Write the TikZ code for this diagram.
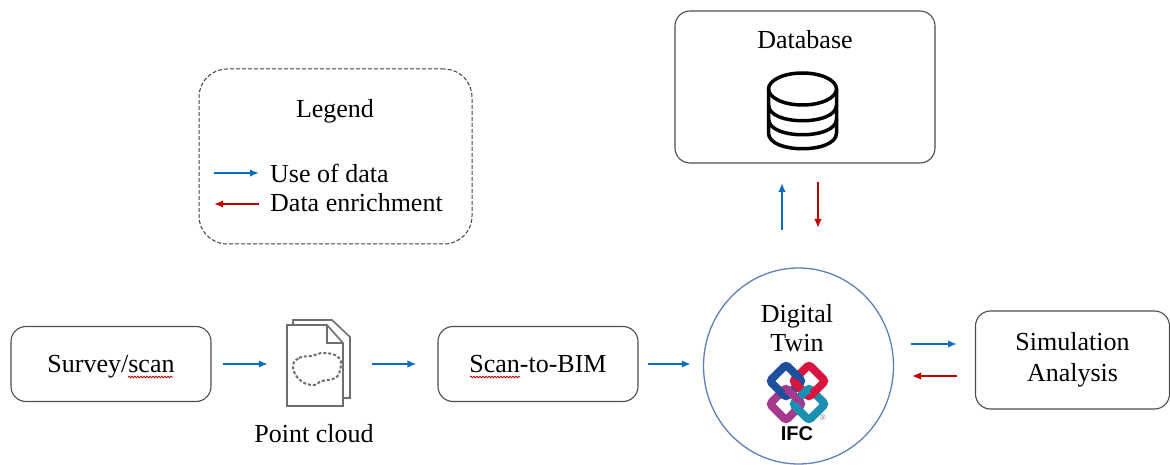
\documentclass[tikz,border=0pt]{standalone}
\usepackage{fontspec}
\setmainfont{Liberation Serif}
\usetikzlibrary{arrows.meta,decorations.pathmorphing,shapes.geometric}

\definecolor{usedata}{HTML}{0F6CBD}
\definecolor{enrich}{HTML}{C00000}
\definecolor{ringline}{HTML}{5F7FB5}
\definecolor{iconline}{HTML}{6E6E6E}
\definecolor{ifcblue}{HTML}{1F4E9C}
\definecolor{ifcred}{HTML}{D8143F}
\definecolor{ifcpurple}{HTML}{A43A8E}
\definecolor{ifcteal}{HTML}{1A8FB0}

\begin{document}
\begin{tikzpicture}[x=1pt,y=-1pt,>={Latex[length=9pt,width=7.5pt]},
  font=\fontsize{26}{30}\selectfont,
  main box/.style={draw=black!70,line width=1.1pt,rounded corners=15pt,inner sep=0pt,align=center},
  use line/.style={->,draw=usedata,line width=1.8pt},
  enrich line/.style={->,draw=enrich,line width=1.8pt},
  spell line/.style={draw=red!75!black,line width=.8pt,decorate,decoration={snake,amplitude=.8pt,segment length=3pt}},
  ifc ring/.style={line width=8pt,rounded corners=3pt}]
  \useasboundingbox (0,0) rectangle (1170,465);

  % boxes
  \node[main box,minimum width=200pt,minimum height=75pt,text height=20pt,text depth=3pt] (survey) at (111,364) {Survey/scan};
  \node[main box,minimum width=200pt,minimum height=75pt,text height=20pt,text depth=3pt] (scan) at (538,364) {Scan-to-BIM};
  \node[main box,minimum width=194pt,minimum height=98pt,font=\fontsize{26}{31}\selectfont] (sim) at (1072.5,360) {Simulation\\Analysis};
  \node[main box,minimum width=260pt,minimum height=152pt] (db) at (805,87) {};
  \node[inner sep=0pt] (dbtitle) at (805,40) {Database};
  \node[draw=ringline,line width=1.3pt,ellipse,minimum width=190pt,minimum height=196pt,inner sep=0pt] (twin) at (798.5,366) {};
  \node[inner sep=0pt,align=center,font=\fontsize{26}{29}\selectfont] (twintitle) at (797,328) {Digital\\Twin};
  \node[inner sep=0pt,minimum width=64pt,minimum height=86pt] (cloud) at (319,364) {};
  \node[inner sep=0pt] (cloudtitle) at (314,434) {Point cloud};

  % legend
  \node[draw=black!75,line width=1pt,dash pattern=on 4pt off 2pt,rounded corners=28pt,minimum width=273pt,minimum height=175pt,inner sep=0pt] (legend) at (335.5,156.5) {};
  \node[inner sep=0pt] (legendtitle) at (335,111) {Legend};
  \node[inner sep=0pt,anchor=west] (usetext) at (270,173) {Use of data};
  \node[inner sep=0pt,anchor=west] (enrichtext) at (270,203) {Data enrichment};

  % spelling marks
  \draw[spell line] (128,377) -- (173,377);
  \draw[spell line] (470,377) -- (520,377);

  % free ends of the arrows
  \coordinate (dbup) at (782,183);
  \coordinate (twinup) at (782,230);
  \coordinate (dbdown) at (818,182);
  \coordinate (twindown) at (818,228);
  \coordinate (simin) at (957,344);
  \coordinate (twinout) at (911,344);
  \coordinate (simout) at (957,376);
  \coordinate (twinin) at (912,376);

  \path (survey) edge[use line,shorten <=11pt,shorten >=19pt] (cloud)
    (cloud) edge[use line,shorten <=21pt,shorten >=21pt] (scan)
    (scan.east) edge[use line,shorten <=9pt,shorten >=12pt] (scan.east -| twin.west)
    (twinup) edge[use line] (dbup)
    (dbdown) edge[enrich line] (twindown)
    (twinout) edge[use line] (simin)
    (simout) edge[enrich line] (twinin);

  \coordinate (keyleft) at (214,173);
  \coordinate (keyright) at (259,173);
  \coordinate (keyleftb) at (214,204);
  \coordinate (keyrightb) at (259,204);
  \path (keyleft) edge[use line] (keyright)
    (keyrightb) edge[enrich line] (keyleftb);

  % database icon
  \draw[line width=3.5pt,black] (802.5,89) ellipse [x radius=34,y radius=16];
  \draw[line width=3.5pt,black] (768.5,89) -- (768.5,133) .. controls (768.5,154) and (836.5,154) .. (836.5,133) -- (836.5,89);
  \draw[line width=3.5pt,black] (768.5,105) .. controls (768.5,126) and (836.5,126) .. (836.5,105);
  \draw[line width=3.5pt,black] (768.5,119) .. controls (768.5,140) and (836.5,140) .. (836.5,119);

  % point cloud icon
  \draw[iconline,line width=1.6pt,fill=white] (293,325) -- (293,320) -- (332,320) -- (350,337) -- (350,398) -- (343,398);
  \draw[iconline,line width=1.6pt,fill=white] (287,325) -- (327,325) -- (343,343) -- (343,406) -- (287,406) -- cycle;
  \draw[iconline,line width=1.6pt] (327,325) -- (327,343) -- (343,343);
  \draw[iconline,line width=2pt,dash pattern=on 3pt off 2pt] plot[smooth cycle,tension=.8] coordinates {(293,367) (299,358) (311,356) (325,353) (339,358) (340,370) (335,378) (322,381) (313,385) (300,380)};

  % IFC logo
  \foreach \cx/\cy/\col in {809/404/ifcteal,786/404/ifcpurple,809/381/ifcred,786/381/ifcblue}
    \draw[ifc ring,draw=\col,shift={(\cx,\cy)},rotate=45] (-11.5,-11.5) rectangle (11.5,11.5);
  % ring crossings that go the other way
  \foreach \cx/\cy/\col/\px/\py in {809/381/ifcred/797.5/386,786/404/ifcpurple/791/392.5,809/404/ifcteal/804/392.5,809/404/ifcteal/797.5/409}{
    \begin{scope}
      \clip (\px,\py) circle (6.5);
      \draw[ifc ring,draw=\col,shift={(\cx,\cy)},rotate=45] (-11.5,-11.5) rectangle (11.5,11.5);
    \end{scope}
  }
  \node[inner sep=0pt,font=\fontspec{Liberation Sans}\bfseries\fontsize{20}{22}\selectfont] (ifctext) at (797,434) {IFC};
  \node[inner sep=0pt,text=black!50,font=\fontspec{Liberation Sans}\fontsize{8}{9}\selectfont] (ifcmark) at (823,418) {®};
\end{tikzpicture}
\end{document}
